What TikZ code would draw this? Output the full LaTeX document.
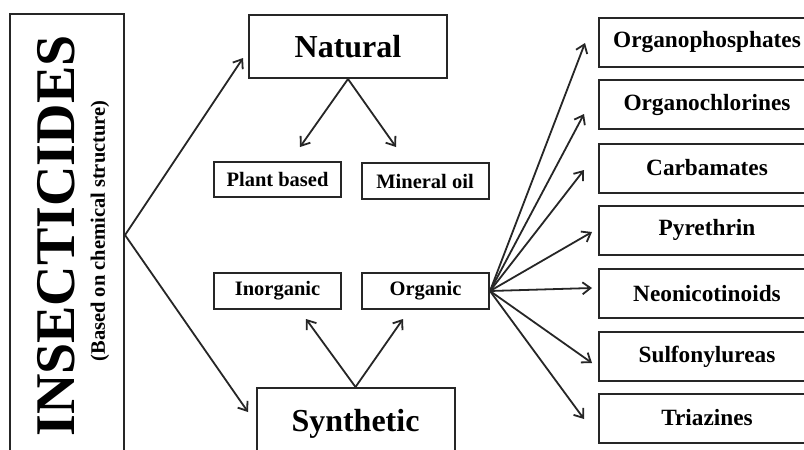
\documentclass[tikz,border=0pt]{standalone}
\usepackage{fontspec}
\setmainfont{Liberation Serif}
\usetikzlibrary{arrows.meta,calc}
\tikzset{
  boxline/.style={draw=black!85, line width=2pt},
  bigbox/.style={boxline, minimum width=198pt, minimum height=63pt, inner sep=0pt, font=\fontsize{32}{36}\selectfont\bfseries},
  smallbox/.style={boxline, minimum width=127pt, minimum height=36pt, inner sep=0pt, font=\fontsize{20.5}{24}\selectfont\bfseries},
  classbox/.style={boxline, minimum width=216pt, minimum height=49pt, inner sep=0pt, font=\fontsize{23.3}{26}\selectfont\bfseries},
  arr/.style={draw=black!85, line width=1.8pt, -{Straight Barb[length=8pt,width=12pt,line width=1.8pt]}},
}
\begin{document}
\begin{tikzpicture}[x=1pt,y=-1pt]
\clip (0,0) rectangle (804,450);
\fill[white] (0,0) rectangle (804,450);
% left box
\node[boxline, minimum width=114pt, minimum height=442pt, inner sep=0pt] (ins) at (67,235) {};
\node[rotate=90, font=\fontsize{56}{60}\selectfont\bfseries, inner sep=0pt] (title) at (56,236) {INSECTICIDES};
\node[rotate=90, font=\fontsize{20.5}{24}\selectfont\bfseries, inner sep=0pt] (sub) at (100,231) {(Based on chemical structure)};
% main categories
\node[bigbox] (nat) at (348,46.5) {Natural};
\node[bigbox, minimum height=72pt] (syn) at (355.5,424) {Synthetic};
\node[smallbox, minimum height=35pt] (plant) at (277.5,179.5) {Plant based};
\node[smallbox] (mineral) at (425,181) {Mineral oil};
\node[smallbox] (inorg) at (277.5,291) {Inorganic};
\node[smallbox] (org) at (425.5,291) {Organic};
% classes
\node[classbox] (c1) at (707,42) {Organophosphates};
\node[classbox] (c2) at (707,104.5) {Organochlorines};
\node[classbox] (c3) at (707,168) {Carbamates};
\node[classbox] (c4) at (707,230) {Pyrethrin};
\node[classbox] (c5) at (707,293.5) {Neonicotinoids};
\node[classbox] (c6) at (707,356.5) {Sulfonylureas};
\node[classbox] (c7) at (707,418) {Triazines};
% arrow end points
\coordinate (tnat) at (243,58);
\coordinate (tsyn) at (248,412);
\coordinate (tplant) at (300,147);
\coordinate (tmin) at (396,147);
\coordinate (tinorg) at (306,319);
\coordinate (torg) at (403,319);
\coordinate (t1) at (585,43);
\coordinate (t2) at (584,114);
\coordinate (t3) at (584,170);
\coordinate (t4) at (592,232);
\coordinate (t5) at (592,288);
\coordinate (t6) at (592,363);
\coordinate (t7) at (584,419);
% arrows
\draw[arr] (ins.east) -- (tnat);
\draw[arr] (ins.east) -- (tsyn);
\draw[arr] (nat.south) -- (tplant);
\draw[arr] (nat.south) -- (tmin);
\draw[arr] (syn.north) -- (tinorg);
\draw[arr] (syn.north) -- (torg);
\foreach \i in {1,...,7} {\draw[arr] (org.east) -- (t\i);}
\end{tikzpicture}
\end{document}
